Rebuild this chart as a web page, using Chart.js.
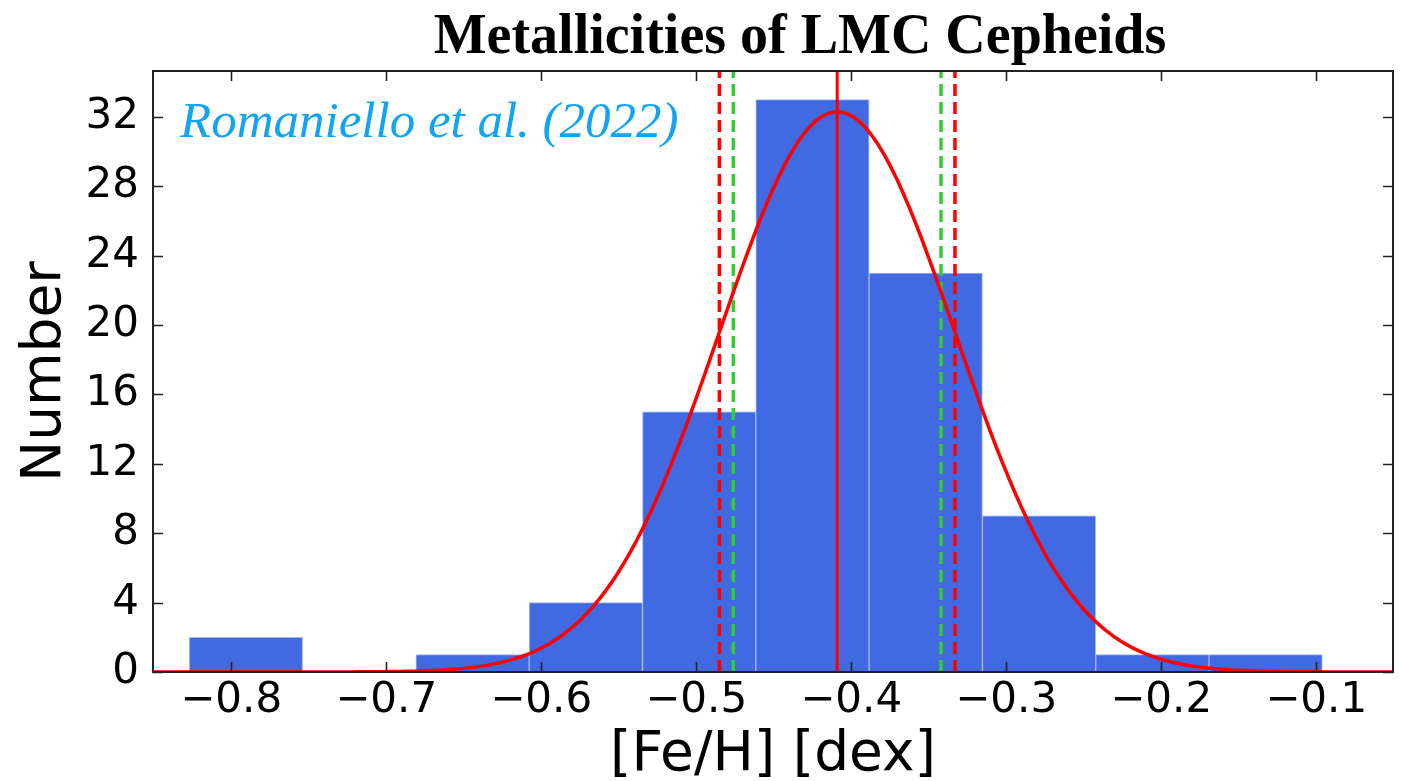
<!DOCTYPE html>
<html>
<head>
<meta charset="utf-8">
<script src="https://cdn.jsdelivr.net/npm/chart.js@4.4.1/dist/chart.umd.min.js"></script>
<style>
  html, body { margin: 0; padding: 0; background: #ffffff; }
  canvas { display: block; }
</style>
</head>
<body>
<canvas id="chart" width="1405" height="781"></canvas>
<script>
// Histogram of [Fe/H] for LMC Cepheids: bin edges and counts
const binEdges = [-0.827, -0.7539, -0.6808, -0.6077, -0.5346, -0.4615, -0.3884, -0.3153, -0.2422, -0.1691, -0.096];
const binCounts = [2, 0, 1, 4, 15, 33, 23, 9, 1, 1];

// Axis ticks
const xTicks = [-0.8, -0.7, -0.6, -0.5, -0.4, -0.3, -0.2, -0.1];
const yTicks = [0, 4, 8, 12, 16, 20, 24, 28, 32];

// Gaussian fit: mean, dispersion and peak height
const fitMean = -0.409;
const fitSigma = 0.076;
const fitPeak = 32.3;

// Uncertainty markers around the mean (green dashed)
const errLines = [-0.476, -0.342];

const xMin = -0.8504, xMax = -0.0504;
const yMin = 0, yMax = 34.65;

const titleText = 'Metallicities of LMC Cepheids';
const noteText = 'Romaniello et al. (2022)';

// bars sit at the centre of each bin
const barPoints = binCounts.map((n, i) => ({ x: (binEdges[i] + binEdges[i + 1]) / 2, y: n }));

// fitted normal curve sampled across the axis range
const curvePoints = [];
for (let k = 0; k <= 200; k++) {
  const x = xMin + (xMax - xMin) * k / 200;
  curvePoints.push({ x: x, y: fitPeak * Math.exp(-0.5 * Math.pow((x - fitMean) / fitSigma, 2)) });
}

function vline(x) { return [{ x: x, y: yMin }, { x: x, y: yMax }]; }

const fmtX = v => (v < 0 ? '\u2212' : '') + Math.abs(v).toFixed(1);

const frameAndText = {
  id: 'frameAndText',
  afterDatasetsDraw(chart) {
    const { ctx, chartArea: a, scales } = chart;
    ctx.save();
    ctx.strokeStyle = '#222222';
    ctx.lineWidth = 1.6;
    const tl = 10;
    ctx.beginPath();
    xTicks.forEach(v => {
      const px = Math.round(scales.x.getPixelForValue(v)) + 0.5;
      ctx.moveTo(px, a.bottom); ctx.lineTo(px, a.bottom - tl);
      ctx.moveTo(px, a.top); ctx.lineTo(px, a.top + tl);
    });
    yTicks.forEach(v => {
      const py = Math.round(scales.y.getPixelForValue(v)) + 0.5;
      ctx.moveTo(a.left, py); ctx.lineTo(a.left + tl, py);
      ctx.moveTo(a.right, py); ctx.lineTo(a.right - tl, py);
    });
    ctx.stroke();
    ctx.lineWidth = 2;
    ctx.strokeStyle = '#222222';
    ctx.strokeRect(a.left, a.top, a.right - a.left, a.bottom - a.top);

    ctx.fillStyle = '#12a4f4';
    ctx.font = 'italic 51px "Liberation Serif", serif';
    ctx.textAlign = 'left';
    ctx.textBaseline = 'alphabetic';
    ctx.fillText(noteText, a.left + 27, a.top + 66);
    ctx.restore();
  },
  afterDraw(chart) {
    const { ctx, chartArea: a } = chart;
    ctx.save();
    ctx.fillStyle = '#000000';
    ctx.font = 'bold 56px "Liberation Serif", serif';
    ctx.textAlign = 'center';
    ctx.textBaseline = 'alphabetic';
    ctx.fillText(titleText, (a.left + a.right) / 2 + 27, 53);
    ctx.restore();
  }
};

new Chart(document.getElementById('chart'), {
  type: 'bar',
  data: {
    datasets: [
      {
        type: 'line', data: vline(fitMean), borderColor: '#ff0000', borderWidth: 3,
        pointRadius: 0, fill: false, order: 0
      },
      {
        type: 'line', data: curvePoints, borderColor: '#ff0000', borderWidth: 3.5,
        pointRadius: 0, fill: false, tension: 0, order: 1
      },
      {
        type: 'line', data: vline(fitMean - fitSigma), borderColor: '#ff0000', borderWidth: 3.5,
        borderDash: [12, 6], pointRadius: 0, fill: false, order: 2
      },
      {
        type: 'line', data: vline(fitMean + fitSigma), borderColor: '#ff0000', borderWidth: 3.5,
        borderDash: [12, 6], pointRadius: 0, fill: false, order: 2
      },
      {
        type: 'line', data: vline(errLines[0]), borderColor: '#33cc33', borderWidth: 3.5,
        borderDash: [12, 6], pointRadius: 0, fill: false, order: 3
      },
      {
        type: 'line', data: vline(errLines[1]), borderColor: '#33cc33', borderWidth: 3.5,
        borderDash: [12, 6], pointRadius: 0, fill: false, order: 3
      },
      {
        type: 'bar', data: barPoints, backgroundColor: '#4169e1',
        borderColor: 'rgba(150,175,245,0.85)', borderWidth: 1,
        barPercentage: 1, categoryPercentage: 1, grouped: false, order: 10
      }
    ]
  },
  options: {
    responsive: false,
    animation: false,
    devicePixelRatio: 1,
    layout: { padding: { top: 71, right: 12, left: 0, bottom: 0 } },
    plugins: { legend: { display: false }, tooltip: { enabled: false }, title: { display: false } },
    scales: {
      x: {
        type: 'linear', position: 'bottom', min: xMin, max: xMax, offset: false,
        grid: { display: false, drawTicks: false }, border: { display: false },
        afterBuildTicks: s => { s.ticks = xTicks.map(v => ({ value: v })); },
        afterFit: s => { s.height = 109; },
        ticks: {
          callback: v => fmtX(v), padding: 4, maxRotation: 0, autoSkip: false,
          color: '#000000', font: { family: '"DejaVu Sans", sans-serif', size: 42 }
        },
        title: {
          display: true, text: '[Fe/H] [dex]', color: '#000000', padding: 0,
          font: { family: '"DejaVu Sans", sans-serif', size: 55, lineHeight: 0.91 }
        }
      },
      y: {
        type: 'linear', position: 'left', min: yMin, max: yMax,
        grid: { display: false, drawTicks: false }, border: { display: false },
        afterBuildTicks: s => { s.ticks = yTicks.map(v => ({ value: v })); },
        afterFit: s => { s.width = 153; },
        ticks: {
          callback: v => String(v), padding: 14, autoSkip: false,
          color: '#000000', font: { family: '"DejaVu Sans", sans-serif', size: 42 }
        },
        title: {
          display: true, text: 'Number', color: '#000000', padding: { top: 13, bottom: 0 },
          font: { family: '"DejaVu Sans", sans-serif', size: 55 }
        }
      }
    }
  },
  plugins: [frameAndText]
});
</script>
</body>
</html>
